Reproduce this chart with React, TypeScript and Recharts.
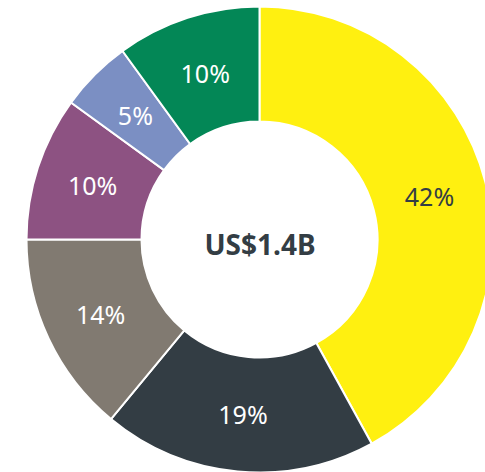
import { PieChart, Pie, Cell } from 'recharts';

const segments = ['A', 'B', 'C', 'D', 'E', 'F'];
const shares = [42, 19, 14, 10, 5, 10];
const colors = ['#FFF010', '#333D44', '#817A71', '#8D5282', '#7B8FC3', '#038756'];
const labelColors = ['#333D44', '#FFFFFF', '#FFFFFF', '#FFFFFF', '#FFFFFF', '#FFFFFF'];
const centerText = 'US$1.4B';

const data = segments.map((name, i) => ({ name, value: shares[i] }));

const RAD = Math.PI / 180;

function SliceLabel(props: any) {
  const { cx, cy, midAngle, innerRadius, outerRadius, index, value } = props;
  const r = (innerRadius + outerRadius) / 2;
  const x = cx + r * Math.cos(-midAngle * RAD);
  const y = cy + r * Math.sin(-midAngle * RAD);
  return (
    <text
      x={x}
      y={y}
      fill={labelColors[index]}
      textAnchor="middle"
      dominantBaseline="central"
      fontFamily="'Noto Sans', sans-serif"
      fontSize={25}
    >
      {`${value}%`}
    </text>
  );
}

export default function App() {
  return (
    <div style={{ position: 'absolute', left: 0, top: 0, background: '#fff' }}>
      <PieChart width={485} height={472} margin={{ top: 0, right: 0, bottom: 0, left: 0 }}>
        <Pie
          data={data}
          dataKey="value"
          cx={259.5}
          cy={239.5}
          innerRadius={118}
          outerRadius={233}
          startAngle={90}
          endAngle={-270}
          stroke="#fff"
          strokeWidth={2}
          label={SliceLabel}
          labelLine={false}
          isAnimationActive={false}
        >
          {data.map((d, i) => (
            <Cell key={d.name} fill={colors[i]} />
          ))}
        </Pie>
        <text
          x={260}
          y={244}
          textAnchor="middle"
          dominantBaseline="central"
          fill="#333D44"
          fontFamily="'Noto Sans', sans-serif"
          fontWeight={700}
          fontSize={28}
        >
          {centerText}
        </text>
      </PieChart>
    </div>
  );
}
